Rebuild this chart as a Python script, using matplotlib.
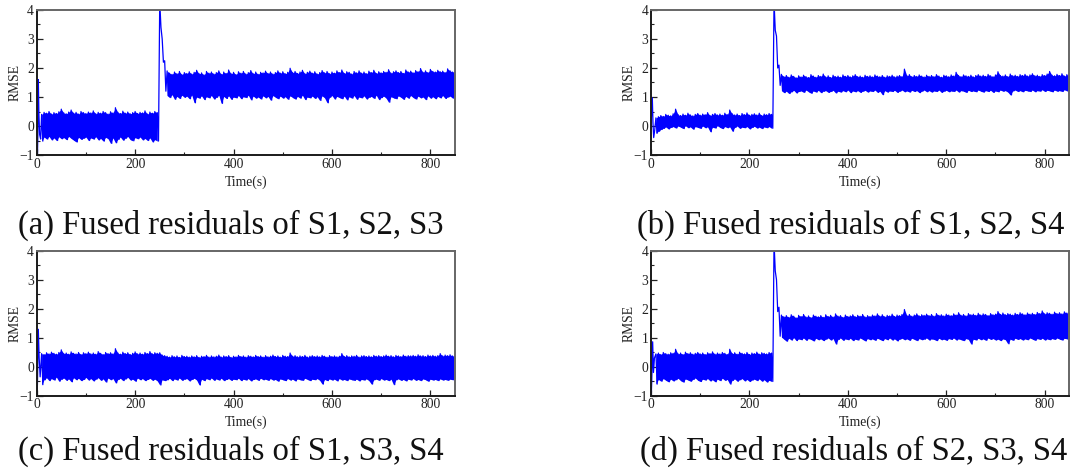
import numpy as np
import matplotlib
matplotlib.use('Agg')
import matplotlib.pyplot as plt
from matplotlib.ticker import MultipleLocator

plt.rcParams['font.family'] = ['Liberation Serif', 'DejaVu Serif']
plt.rcParams['axes.unicode_minus'] = True

# ---------------- data ----------------
captions = ["(a) Fused residuals of S1, S2, S3",
            "(b) Fused residuals of S1, S2, S4",
            "(c) Fused residuals of S1, S3, S4",
            "(d) Fused residuals of S2, S3, S4"]
x_ticks = [0, 200, 400, 600, 800]
y_ticks = [-1, 0, 1, 2, 3, 4]
band_start = 10.0      # first envelope sample (s)
band_step = 5.0        # envelope sample spacing (s)
has_fault = [True, True, False, True]

# initial transient (time, value)
a_start_t = [0, 1.5, 2.5, 3.3, 4.5, 6, 8]
a_start_y = [-1.3, -1.0, -0.2, 1.6, 0.4, -0.3, -0.45]
b_start_t = [0, 1.5, 2.7, 4, 5.5, 7.5]
b_start_y = [0.0, 0.5, 0.97, 0.1, -0.40, -0.15]
c_start_t = [0, 1.5, 3.3, 5, 7]
c_start_y = [-1.3, -0.6, 1.29, 0.3, -0.35]
d_start_t = [0, 1.5, 3.4, 5, 7]
d_start_y = [-1.3, -0.5, 0.86, -0.2, 0.3]

# ---- panel (a): upper / lower envelope, t = 10..245, 250..260, 265..850
a_up_pre = [0.40, 0.47, 0.44, 0.50, 0.41, 0.46, 0.43, 0.49, 0.58, 0.45,
            0.42, 0.48, 0.55, 0.44, 0.47, 0.41, 0.50, 0.46, 0.43, 0.48,
            0.45, 0.52, 0.42, 0.47, 0.44, 0.50, 0.46, 0.41, 0.49, 0.45,
            0.63, 0.47, 0.43, 0.51, 0.44, 0.48, 0.42, 0.46, 0.50, 0.43,
            0.47, 0.45, 0.52, 0.41, 0.48, 0.44, 0.50, 0.46]
a_lo_pre = [-0.52, -0.38, -0.45, -0.36, -0.48, -0.41, -0.50, -0.37, -0.44, -0.40,
            -0.47, -0.36, -0.43, -0.49, -0.55, -0.39, -0.46, -0.42, -0.38, -0.50,
            -0.41, -0.45, -0.37, -0.48, -0.43, -0.52, -0.39, -0.44, -0.60, -0.41,
            -0.58, -0.46, -0.38, -0.49, -0.42, -0.36, -0.47, -0.51, -0.40, -0.44,
            -0.38, -0.48, -0.43, -0.50, -0.41, -0.55, -0.47, -0.52]
a_up_fault = [4.30, 3.00, 2.25]
a_lo_fault = [3.40, 2.20, 1.20]
a_up_post = [1.90, 1.82, 1.78, 1.86, 1.80, 1.88, 1.77, 1.84, 1.81, 1.87,
             1.79, 1.85, 1.92, 1.80, 1.83, 1.76, 1.88, 1.82, 1.86, 1.79,
             1.84, 1.90, 1.78, 1.86, 1.81, 1.93, 1.80, 1.85, 1.77, 1.87,
             1.82, 1.88, 1.79, 1.84, 1.91, 1.80, 1.86, 1.78, 1.85, 1.83,
             1.89, 1.81, 1.86, 1.79, 1.84, 1.90, 1.82, 1.87, 1.80, 1.85,
             1.99, 1.84, 1.88, 1.81, 1.86, 1.92, 1.80, 1.85, 1.89, 1.82,
             1.87, 1.79, 1.84, 1.91, 1.83, 1.88, 1.80, 1.86, 1.82, 1.90,
             1.84, 1.93, 1.81, 1.87, 1.85, 1.79, 1.88, 1.83, 1.90, 1.82,
             1.86, 1.80, 1.89, 1.84, 1.92, 1.81, 1.87, 1.83, 1.88, 1.85,
             1.94, 1.82, 1.87, 1.90, 1.84, 1.88, 1.81, 1.93, 1.86, 1.89,
             1.83, 1.91, 1.87, 1.98, 1.85, 1.90, 1.84, 1.95, 1.88, 1.86,
             1.92, 1.87, 1.89, 1.84, 1.97, 1.90, 1.86, 1.91]
a_lo_post = [1.05, 0.98, 1.08, 0.92, 1.02, 0.95, 1.06, 0.99, 1.03, 0.94,
             1.07, 0.80, 1.00, 0.96, 1.04, 0.91, 1.01, 0.97, 1.05, 0.93,
             0.99, 1.06, 0.78, 1.02, 0.95, 1.04, 0.92, 1.00, 0.97, 1.05,
             0.94, 1.01, 0.98, 1.06, 0.90, 1.03, 0.96, 1.00, 0.93, 1.04,
             0.97, 1.02, 0.89, 1.05, 0.99, 0.94, 1.03, 0.96, 1.01, 0.92,
             1.04, 0.98, 0.93, 1.02, 0.96, 1.06, 0.91, 1.00, 0.97, 1.03,
             0.95, 1.01, 0.88, 1.04, 0.97, 0.80, 0.99, 1.05, 0.93, 1.02,
             0.98, 0.94, 1.03, 0.90, 1.01, 0.96, 1.05, 0.92, 1.00, 0.97,
             1.04, 0.93, 0.99, 1.02, 0.95, 1.06, 0.91, 0.98, 1.03, 0.96,
             0.82, 1.01, 0.97, 0.94, 1.04, 0.99, 0.92, 1.02, 0.96, 1.05,
             0.98, 0.93, 1.03, 0.97, 1.00, 0.91, 1.04, 0.96, 1.01, 0.94,
             1.02, 0.97, 1.05, 0.95, 1.00, 1.03, 0.96, 1.04]

# ---- panel (b)
b_up_pre = [0.28, 0.32, 0.36, 0.33, 0.40, 0.37, 0.35, 0.42, 0.58, 0.39,
            0.36, 0.41, 0.37, 0.44, 0.38, 0.35, 0.40, 0.43, 0.37, 0.41,
            0.39, 0.46, 0.36, 0.40, 0.43, 0.38, 0.41, 0.37, 0.44, 0.39,
            0.55, 0.42, 0.38, 0.41, 0.36, 0.43, 0.39, 0.45, 0.37, 0.40,
            0.42, 0.38, 0.44, 0.36, 0.41, 0.39, 0.43, 0.40]
b_lo_pre = [-0.25, -0.18, -0.12, -0.08, -0.03, -0.10, -0.05, -0.02, -0.07, 0.00,
            -0.04, -0.09, 0.01, -0.06, -0.03, -0.11, -0.02, -0.05, -0.08, 0.00,
            -0.06, -0.03, -0.20, -0.04, -0.07, 0.01, -0.05, -0.09, -0.02, -0.06,
            -0.03, -0.18, -0.05, 0.00, -0.08, -0.04, -0.06, -0.02, -0.10, -0.05,
            -0.01, -0.07, -0.04, -0.09, -0.03, -0.06, -0.02, -0.08]
b_up_fault = [4.30, 3.10, 2.10]
b_lo_fault = [3.30, 2.00, 1.40]
b_up_post = [1.78, 1.70, 1.74, 1.68, 1.76, 1.71, 1.66, 1.73, 1.69, 1.75,
             1.70, 1.67, 1.77, 1.72, 1.68, 1.74, 1.71, 1.79, 1.69, 1.73,
             1.67, 1.75, 1.70, 1.72, 1.68, 1.76, 1.71, 1.74, 1.69, 1.73,
             1.77, 1.70, 1.72, 1.68, 1.75, 1.71, 1.73, 1.69, 1.76, 1.72,
             1.70, 1.74, 1.68, 1.73, 1.71, 1.75, 1.69, 1.72, 1.74, 1.70,
             1.96, 1.73, 1.77, 1.70, 1.74, 1.71, 1.76, 1.72, 1.69, 1.75,
             1.71, 1.74, 1.70, 1.77, 1.72, 1.68, 1.75, 1.73, 1.70, 1.76,
             1.72, 1.85, 1.74, 1.70, 1.76, 1.73, 1.71, 1.75, 1.69, 1.74,
             1.77, 1.72, 1.75, 1.71, 1.78, 1.73, 1.70, 1.76, 1.87, 1.74,
             1.72, 1.76, 1.70, 1.79, 1.73, 1.75, 1.71, 1.77, 1.74, 1.78,
             1.72, 1.76, 1.80, 1.73, 1.75, 1.71, 1.77, 1.74, 1.79, 1.88,
             1.75, 1.73, 1.78, 1.74, 1.80, 1.72, 1.77, 1.75]
b_lo_post = [1.22, 1.15, 1.20, 1.12, 1.18, 1.23, 1.14, 1.19, 1.21, 1.16,
             1.24, 1.18, 1.13, 1.21, 1.17, 1.23, 1.15, 1.20, 1.22, 1.16,
             1.19, 1.23, 1.14, 1.20, 1.17, 1.22, 1.18, 1.24, 1.15, 1.21,
             1.18, 1.22, 1.16, 1.20, 1.23, 1.17, 1.21, 1.19, 1.24, 1.16,
             1.20, 1.08, 1.22, 1.17, 1.21, 1.19, 1.23, 1.16, 1.20, 1.24,
             1.18, 1.21, 1.17, 1.23, 1.19, 1.22, 1.15, 1.20, 1.24, 1.18,
             1.22, 1.17, 1.21, 1.19, 1.24, 1.16, 1.20, 1.23, 1.18, 1.21,
             1.19, 1.24, 1.17, 1.22, 1.20, 1.16, 1.23, 1.19, 1.21, 1.18,
             1.24, 1.20, 1.17, 1.22, 1.19, 1.23, 1.16, 1.21, 1.18, 1.24,
             1.20, 1.22, 1.17, 1.07, 1.21, 1.24, 1.19, 1.22, 1.18, 1.23,
             1.21, 1.19, 1.24, 1.18, 1.22, 1.20, 1.25, 1.19, 1.23, 1.21,
             1.18, 1.24, 1.20, 1.22, 1.19, 1.25, 1.21, 1.23]

# ---- panel (c)
c_up_pre = [0.45, 0.42, 0.48, 0.44, 0.50, 0.46, 0.43, 0.49, 0.58, 0.45,
            0.47, 0.43, 0.51, 0.46, 0.44, 0.49, 0.42, 0.48, 0.45, 0.50,
            0.44, 0.47, 0.43, 0.52, 0.46, 0.42, 0.49, 0.45, 0.48, 0.44,
            0.62, 0.47, 0.43, 0.50, 0.45, 0.48, 0.42, 0.46, 0.51, 0.44,
            0.47, 0.43, 0.49, 0.45, 0.52, 0.44, 0.48, 0.46]
c_lo_pre = [-0.62, -0.45, -0.38, -0.48, -0.41, -0.46, -0.36, -0.50, -0.43, -0.39,
            -0.47, -0.42, -0.52, -0.38, -0.45, -0.40, -0.48, -0.44, -0.37, -0.46,
            -0.41, -0.49, -0.43, -0.38, -0.47, -0.42, -0.53, -0.39, -0.45, -0.41,
            -0.56, -0.44, -0.40, -0.48, -0.42, -0.37, -0.46, -0.43, -0.50, -0.39,
            -0.45, -0.41, -0.48, -0.44, -0.40, -0.47, -0.43, -0.49]
c_up_fault = [0.48, 0.40, 0.38]
c_lo_fault = [-0.63, -0.45, -0.48]
c_up_post = [0.36, 0.33, 0.38, 0.34, 0.37, 0.32, 0.39, 0.35, 0.36, 0.33,
             0.37, 0.34, 0.38, 0.32, 0.36, 0.35, 0.39, 0.33, 0.37, 0.34,
             0.36, 0.40, 0.33, 0.37, 0.35, 0.38, 0.32, 0.36, 0.34, 0.39,
             0.35, 0.37, 0.33, 0.38, 0.36, 0.34, 0.39, 0.35, 0.37, 0.33,
             0.38, 0.34, 0.36, 0.40, 0.35, 0.37, 0.33, 0.39, 0.36, 0.35,
             0.47, 0.36, 0.38, 0.34, 0.37, 0.35, 0.39, 0.33, 0.36, 0.38,
             0.35, 0.37, 0.34, 0.39, 0.36, 0.33, 0.38, 0.35, 0.37, 0.34,
             0.36, 0.45, 0.35, 0.38, 0.34, 0.37, 0.36, 0.39, 0.33, 0.37,
             0.38, 0.35, 0.37, 0.34, 0.39, 0.36, 0.38, 0.35, 0.37, 0.40,
             0.36, 0.38, 0.34, 0.39, 0.37, 0.35, 0.40, 0.36, 0.38, 0.37,
             0.39, 0.36, 0.41, 0.37, 0.38, 0.35, 0.40, 0.37, 0.39, 0.36,
             0.38, 0.45, 0.37, 0.40, 0.38, 0.41, 0.37, 0.39]
c_lo_post = [-0.45, -0.40, -0.48, -0.42, -0.46, -0.39, -0.47, -0.43, -0.41, -0.49,
             -0.44, -0.40, -0.46, -0.63, -0.43, -0.48, -0.41, -0.45, -0.39, -0.47,
             -0.42, -0.46, -0.40, -0.48, -0.44, -0.41, -0.47, -0.43, -0.45, -0.40,
             -0.48, -0.43, -0.46, -0.41, -0.49, -0.44, -0.42, -0.47, -0.40, -0.45,
             -0.43, -0.47, -0.41, -0.46, -0.44, -0.50, -0.42, -0.45, -0.48, -0.41,
             -0.46, -0.43, -0.49, -0.42, -0.45, -0.47, -0.40, -0.44, -0.48, -0.43,
             -0.45, -0.41, -0.47, -0.60, -0.44, -0.48, -0.42, -0.46, -0.43, -0.49,
             -0.41, -0.46, -0.44, -0.48, -0.42, -0.45, -0.47, -0.43, -0.49, -0.44,
             -0.46, -0.42, -0.48, -0.60, -0.45, -0.43, -0.47, -0.41, -0.46, -0.44,
             -0.48, -0.43, -0.62, -0.45, -0.42, -0.47, -0.44, -0.49, -0.43, -0.46,
             -0.41, -0.47, -0.44, -0.48, -0.42, -0.45, -0.50, -0.43, -0.46, -0.44,
             -0.48, -0.42, -0.46, -0.44, -0.47, -0.43, -0.45, -0.41]

# ---- panel (d)
d_up_pre = [0.44, 0.47, 0.42, 0.49, 0.45, 0.43, 0.48, 0.46, 0.60, 0.44,
            0.47, 0.42, 0.50, 0.45, 0.48, 0.43, 0.46, 0.49, 0.44, 0.47,
            0.42, 0.48, 0.45, 0.51, 0.43, 0.47, 0.44, 0.49, 0.46, 0.42,
            0.60, 0.45, 0.48, 0.43, 0.50, 0.46, 0.44, 0.49, 0.42, 0.47,
            0.45, 0.50, 0.43, 0.48, 0.46, 0.44, 0.49, 0.47]
d_lo_pre = [-0.60, -0.44, -0.50, -0.41, -0.47, -0.52, -0.43, -0.49, -0.45, -0.40,
            -0.48, -0.53, -0.42, -0.46, -0.50, -0.44, -0.39, -0.47, -0.51, -0.43,
            -0.46, -0.41, -0.49, -0.45, -0.52, -0.43, -0.48, -0.40, -0.47, -0.44,
            -0.60, -0.47, -0.42, -0.50, -0.45, -0.41, -0.49, -0.44, -0.51, -0.46,
            -0.43, -0.48, -0.42, -0.50, -0.45, -0.53, -0.47, -0.51]
d_up_fault = [4.30, 3.00, 2.05]
d_lo_fault = [3.30, 1.90, 1.05]
d_up_post = [1.78, 1.72, 1.76, 1.70, 1.79, 1.74, 1.68, 1.77, 1.73, 1.80,
             1.71, 1.75, 1.69, 1.78, 1.74, 1.72, 1.76, 1.70, 1.79, 1.73,
             1.77, 1.71, 1.82, 1.74, 1.76, 1.70, 1.78, 1.73, 1.75, 1.79,
             1.72, 1.77, 1.74, 1.80, 1.71, 1.76, 1.73, 1.78, 1.75, 1.82,
             1.74, 1.79, 1.72, 1.77, 1.75, 1.81, 1.73, 1.78, 1.76, 1.80,
             1.97, 1.76, 1.80, 1.74, 1.78, 1.82, 1.75, 1.79, 1.77, 1.81,
             1.76, 1.80, 1.74, 1.83, 1.77, 1.79, 1.75, 1.81, 1.78, 1.76,
             1.82, 1.78, 1.86, 1.77, 1.80, 1.75, 1.83, 1.79, 1.81, 1.77,
             1.84, 1.78, 1.82, 1.80, 1.76, 1.83, 1.79, 1.81, 1.90, 1.80,
             1.85, 1.79, 1.83, 1.81, 1.78, 1.84, 1.80, 1.86, 1.82, 1.79,
             1.85, 1.81, 1.84, 1.80, 1.87, 1.83, 1.92, 1.82, 1.86, 1.84,
             1.81, 1.88, 1.83, 1.86, 1.82, 1.89, 1.85, 1.87]
d_lo_post = [1.02, 0.95, 0.88, 0.98, 0.92, 1.00, 0.90, 0.96, 0.93, 0.99,
             0.91, 0.97, 0.94, 0.89, 0.98, 0.93, 0.96, 0.90, 0.95, 0.99,
             0.92, 0.97, 0.78, 0.94, 0.99, 0.91, 0.96, 0.93, 0.98, 0.90,
             0.95, 0.92, 0.99, 0.94, 0.89, 0.97, 0.93, 0.96, 0.91, 0.98,
             0.94, 0.90, 0.97, 0.93, 0.99, 0.92, 0.96, 0.89, 0.95, 0.98,
             0.93, 0.96, 0.91, 0.98, 0.94, 0.90, 0.97, 0.93, 0.95, 0.99,
             0.92, 0.96, 0.94, 0.90, 0.98, 0.93, 0.95, 0.91, 0.97, 0.94,
             0.99, 0.92, 0.96, 0.93, 0.90, 0.97, 0.94, 0.78, 0.95, 0.92,
             0.98, 0.93, 0.96, 0.91, 0.99, 0.94, 0.97, 0.92, 0.95, 0.90,
             0.96, 0.93, 0.79, 0.95, 0.91, 0.98, 0.94, 0.97, 0.92, 0.96,
             0.93, 0.99, 0.95, 0.91, 0.97, 0.94, 0.98, 0.92, 0.96, 0.93,
             0.97, 0.94, 0.99, 0.95, 0.92, 0.98, 0.96, 0.94]

panels = [
    (a_start_t, a_start_y, a_up_pre, a_up_fault, a_up_post, a_lo_pre, a_lo_fault, a_lo_post),
    (b_start_t, b_start_y, b_up_pre, b_up_fault, b_up_post, b_lo_pre, b_lo_fault, b_lo_post),
    (c_start_t, c_start_y, c_up_pre, c_up_fault, c_up_post, c_lo_pre, c_lo_fault, c_lo_post),
    (d_start_t, d_start_y, d_up_pre, d_up_fault, d_up_post, d_lo_pre, d_lo_fault, d_lo_post),
]


def sample_times(n, offset=0):
    return band_start + band_step * (offset + np.arange(n))


def zigzag(start_t, start_y, up, lo):
    up = np.asarray(up, float)
    lo = np.asarray(lo, float)
    n = min(len(up), len(lo))
    tk = sample_times(n)
    x = np.empty(2 * n)
    y = np.empty(2 * n)
    x[0::2] = tk
    x[1::2] = tk + band_step / 2
    y[0::2] = up[:n]
    y[1::2] = lo[:n]
    return (np.concatenate([np.asarray(start_t, float), x]),
            np.concatenate([np.asarray(start_y, float), y]))


# ---------------- figure ----------------
W, H = 1070, 470
fig = plt.figure(figsize=(W / 100, H / 100), dpi=100)

axw, axh = 418.3, 145.0
lefts = [36.7, 651.0, 36.7, 651.0]
bottoms = [155.0, 155.0, 395.7, 395.7]
cap_xy = [(231, 225), (851, 225), (231, 451), (854, 451)]
blue = '#0000ff'
small = 9.8

for i, (st, sy, upp, upf, upo, lop, lof, loo) in enumerate(panels):
    ax = fig.add_axes([lefts[i] / W, 1 - bottoms[i] / H, axw / W, axh / H])
    up_all = upp + upf + upo
    lo_all = lop + lof + loo
    # solid body of the noise band
    if has_fault[i]:
        n1 = min(len(upp), len(lop))
        t1 = sample_times(n1)
        ax.fill_between(t1, lop[:n1], upp[:n1], color=blue, lw=0)
        off = len(upp) + len(upf)
        n2 = min(len(upo), len(loo))
        t2 = sample_times(n2, off)
        ax.fill_between(t2, loo[:n2], upo[:n2], color=blue, lw=0)
    else:
        n = min(len(up_all), len(lo_all))
        ax.fill_between(sample_times(n), lo_all[:n], up_all[:n], color=blue, lw=0)
    # the signal trace (peaks / troughs)
    x, y = zigzag(st, sy, up_all, lo_all)
    ax.plot(x, y, color=blue, lw=0.9)
    ax.set_xlim(0, 850)
    ax.set_ylim(-1, 4)
    ax.set_xticks(x_ticks)
    ax.set_yticks(y_ticks)
    ax.xaxis.set_minor_locator(MultipleLocator(100))
    ax.yaxis.set_minor_locator(MultipleLocator(0.5))
    ax.tick_params(which='both', direction='in', top=False, right=False,
                   labelsize=small, labelcolor='#222222', color='#222222')
    ax.tick_params(which='major', length=4, width=0.9, pad=2)
    ax.tick_params(which='minor', length=2.2, width=0.8)
    for s in ('left', 'bottom'):
        ax.spines[s].set_color('#1a1a1a')
        ax.spines[s].set_linewidth(1.4)
    for s in ('top', 'right'):
        ax.spines[s].set_color('#666666')
        ax.spines[s].set_linewidth(1.4)
    ax.set_ylabel('RMSE', fontsize=small, color='#222222')
    ax.yaxis.set_label_coords(-0.036, 0.5)
    ax.set_xlabel('Time(s)', fontsize=small, color='#222222')
    ax.xaxis.set_label_coords(0.5, -0.14)
    cx, cy = cap_xy[i]
    fig.text(cx / W, 1 - cy / H, captions[i], fontsize=23.5, ha='center',
             va='center', color='#111111')

fig.savefig('out.png', dpi=100)
